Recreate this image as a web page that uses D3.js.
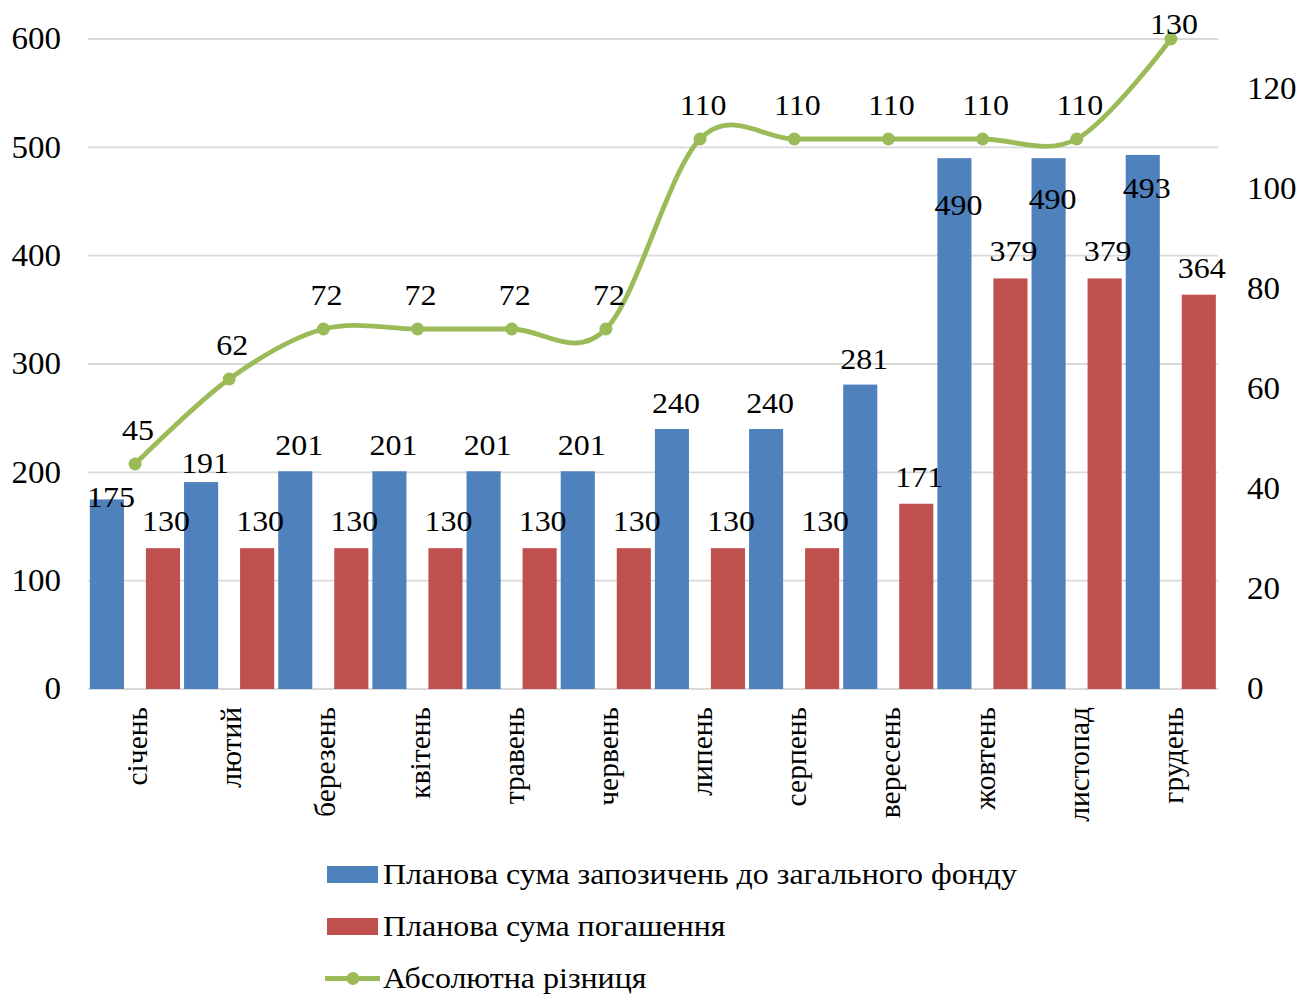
<!DOCTYPE html>
<html>
<head>
<meta charset="utf-8">
<script src="https://cdn.jsdelivr.net/npm/d3@7"></script>
<style>
  html, body { margin: 0; padding: 0; background: #fff; }
  svg text { font-family: "Liberation Serif", "Times New Roman", serif; fill: #000; }
</style>
</head>
<body>
<div id="chart"></div>
<script>
const months = ["січень", "лютий", "березень", "квітень", "травень", "червень",
  "липень", "серпень", "вересень", "жовтень", "листопад", "грудень"];
const borrowing = [175, 191, 201, 201, 201, 201, 240, 240, 281, 490, 490, 493];
const repayment = [130, 130, 130, 130, 130, 130, 130, 130, 171, 379, 379, 364];
const difference = [45, 62, 72, 72, 72, 72, 110, 110, 110, 110, 110, 130];
const leftTicks = [0, 100, 200, 300, 400, 500, 600];
const rightTicks = [0, 20, 40, 60, 80, 100, 120];
const seriesNames = ["Планова сума запозичень до загального фонду", "Планова сума погашення", "Абсолютна різниця"];

function drawChart(selector) {
  const W = 1298, H = 995;
  const plot = { left: 88, right: 1218, top: 39, bottom: 689 };
  const colors = { blue: "#4f81bd", red: "#c0504d", green: "#9bbb59", grid: "#d9d9d9" };
  const stretch = 1.065; // the source picture is slightly wider than tall

  const svg = d3.select(selector).append("svg")
    .attr("width", W)
    .attr("height", H);

  const x = d3.scaleBand()
    .domain(months)
    .range([plot.left, plot.right]);

  const yLeft = d3.scaleLinear().domain([0, 600]).range([plot.bottom, plot.top]);
  const yRight = d3.scaleLinear().domain([0, 130]).range([plot.bottom, plot.top]);

  // gridlines
  svg.append("g")
    .selectAll("line")
    .data(leftTicks)
    .join("line")
    .attr("x1", plot.left)
    .attr("x2", plot.right)
    .attr("y1", d => yLeft(d))
    .attr("y2", d => yLeft(d))
    .attr("stroke", colors.grid)
    .attr("stroke-width", 1.8);

  // left axis
  svg.append("g")
    .attr("transform", `translate(${plot.left - 27},0)`)
    .call(d3.axisLeft(yLeft).tickValues(leftTicks).tickSize(0).tickPadding(0))
    .call(g => g.select(".domain").remove())
    .selectAll("text")
    .attr("transform", `scale(${stretch},1)`)
    .style("font-size", "31px")
    .style("font-family", "Liberation Serif");

  // right axis
  svg.append("g")
    .attr("transform", `translate(${plot.right + 29},0)`)
    .call(d3.axisRight(yRight).tickValues(rightTicks).tickSize(0).tickPadding(0))
    .call(g => g.select(".domain").remove())
    .selectAll("text")
    .attr("transform", `scale(${stretch},1)`)
    .style("font-size", "31px")
    .style("font-family", "Liberation Serif");

  const bw = x.bandwidth();
  const barW = bw * 0.362;
  const blueOff = bw * 0.02;
  const redOff = bw * 0.615;

  // bars
  svg.append("g").selectAll("rect")
    .data(borrowing)
    .join("rect")
    .attr("x", (d, i) => x(months[i]) + blueOff)
    .attr("y", d => yLeft(d))
    .attr("width", barW)
    .attr("height", d => yLeft(0) - yLeft(d))
    .attr("fill", colors.blue);

  svg.append("g").selectAll("rect")
    .data(repayment)
    .join("rect")
    .attr("x", (d, i) => x(months[i]) + redOff)
    .attr("y", d => yLeft(d))
    .attr("width", barW)
    .attr("height", d => yLeft(0) - yLeft(d))
    .attr("fill", colors.red);

  // x category labels
  svg.append("g").selectAll("text")
    .data(months)
    .join("text")
    .attr("transform", d => `translate(${x(d) + bw / 2 + 12},707) rotate(-90)`)
    .attr("text-anchor", "end")
    .style("font-size", "29.5px")
    .text(d => d);

  function label(g, data, fx, fy) {
    g.selectAll("text")
      .data(data)
      .join("text")
      .attr("transform", (d, i) => `translate(${fx(d, i)},${fy(d, i)}) scale(${stretch},1)`)
      .attr("text-anchor", "middle")
      .style("font-size", "30px")
      .text(d => d);
  }

  // bar labels (Excel nudged a few of them)
  const blueDy = { 0: 8, 1: -9, 9: 57, 10: 51, 11: 43 };
  label(svg.append("g"), borrowing,
    (d, i) => x(months[i]) + blueOff + barW / 2 + 4,
    (d, i) => yLeft(d) + (blueDy[i] !== undefined ? blueDy[i] : -16));

  label(svg.append("g"), repayment,
    (d, i) => x(months[i]) + redOff + barW / 2 + 3,
    d => yLeft(d) - 17);

  // smoothed line
  const line = d3.line()
    .x((d, i) => x(months[i]) + bw / 2)
    .y(d => yRight(d))
    .curve(d3.curveCardinal.tension(0));

  svg.append("path")
    .datum(difference)
    .attr("d", line)
    .attr("fill", "none")
    .attr("stroke", colors.green)
    .attr("stroke-width", 4.8);

  svg.append("g").selectAll("circle")
    .data(difference)
    .join("circle")
    .attr("cx", (d, i) => x(months[i]) + bw / 2)
    .attr("cy", d => yRight(d))
    .attr("r", 6.5)
    .attr("fill", colors.green);

  label(svg.append("g"), difference,
    (d, i) => x(months[i]) + bw / 2 + 3,
    (d, i) => yRight(d) + (i === difference.length - 1 ? -5 : -24));

  // legend
  const legend = svg.append("g").attr("transform", "translate(327,0)");
  const rows = [866, 918, 970];
  legend.append("rect").attr("x", 0).attr("y", rows[0]).attr("width", 51).attr("height", 17).attr("fill", colors.blue);
  legend.append("rect").attr("x", 0).attr("y", rows[1]).attr("width", 51).attr("height", 17).attr("fill", colors.red);
  legend.append("line").attr("x1", -2).attr("x2", 53).attr("y1", rows[2] + 8.5).attr("y2", rows[2] + 8.5)
    .attr("stroke", colors.green).attr("stroke-width", 4.8);
  legend.append("circle").attr("cx", 26).attr("cy", rows[2] + 8.5).attr("r", 6.5).attr("fill", colors.green);

  legend.selectAll("text.leg")
    .data(seriesNames)
    .join("text")
    .attr("class", "leg")
    .attr("transform", (d, i) => `translate(56,${rows[i] + 18}) scale(${stretch},1)`)
    .style("font-size", "30px")
    .text(d => d);
}

drawChart("#chart");
</script>
</body>
</html>
